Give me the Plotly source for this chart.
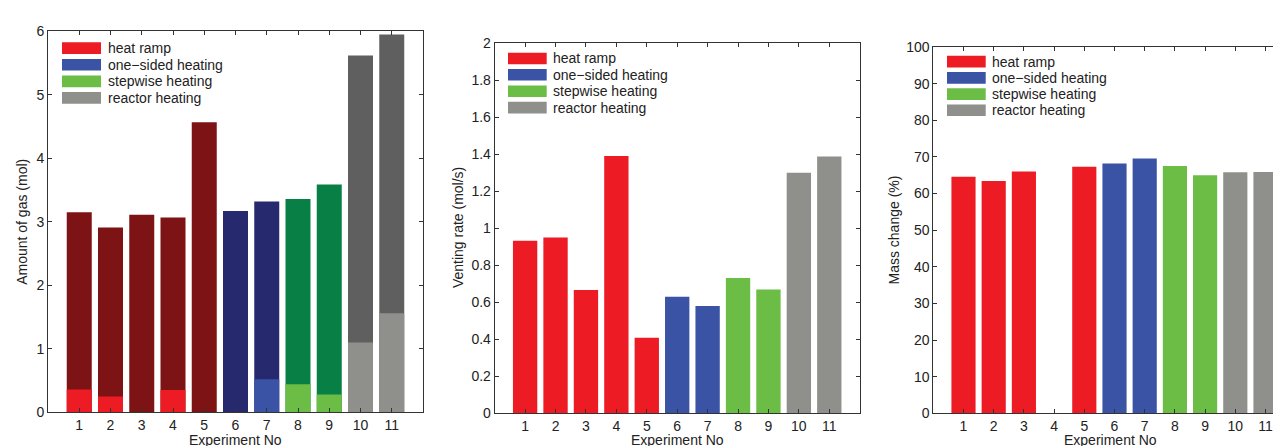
import plotly.graph_objects as go

# ---------------- data ----------------
experiments = [1, 2, 3, 4, 5, 6, 7, 8, 9, 10, 11]
groups = ["heat ramp", "heat ramp", "heat ramp", "heat ramp", "heat ramp",
          "one-sided heating", "one-sided heating",
          "stepwise heating", "stepwise heating",
          "reactor heating", "reactor heating"]
legend_names = ["heat ramp", "one\u2212sided heating", "stepwise heating", "reactor heating"]

gas_total = [3.15, 2.91, 3.11, 3.07, 4.57, 3.17, 3.32, 3.36, 3.59, 5.62, 5.95]
gas_part = [0.36, 0.25, 0.0, 0.35, 0.0, 0.0, 0.52, 0.44, 0.28, 1.10, 1.56]
venting_rate = [0.933, 0.95, 0.666, 1.39, 0.408, 0.629, 0.58, 0.731, 0.669, 1.30, 1.388]
mass_change = [64.6, 63.4, 66.0, None, 67.3, 68.2, 69.6, 67.5, 65.0, 65.8, 65.9]

y1_ticks = [0, 1, 2, 3, 4, 5, 6]
y2_ticks = [0, 0.2, 0.4, 0.6, 0.8, 1.0, 1.2, 1.4, 1.6, 1.8, 2.0]
y2_labels = ["0", "0.2", "0.4", "0.6", "0.8", "1", "1.2", "1.4", "1.6", "1.8", "2"]
y3_ticks = [0, 10, 20, 30, 40, 50, 60, 70, 80, 90, 100]

# ---------------- styles ----------------
light = {"heat ramp": "#ED1C24", "one-sided heating": "#3A53A4",
         "stepwise heating": "#6BBD45", "reactor heating": "#8F8F8B"}
dark = {"heat ramp": "#7D1315", "one-sided heating": "#27296F",
        "stepwise heating": "#077F45", "reactor heating": "#5F5F5F"}
legend_colors = ["#ED1C24", "#3A53A4", "#6BBD45", "#8F8F8B"]

W, H = 1281, 446
FONT = "Liberation Sans, Arial, Helvetica, sans-serif"
FS = 14
AX = "#333333"


def px(x):
    return x / W


def py(y):
    return 1 - y / H


fig = go.Figure()

light_cols = [light[g] for g in groups]
dark_cols = [dark[g] for g in groups]

fig.add_trace(go.Bar(x=experiments, y=gas_total, width=0.8,
                     marker=dict(color=dark_cols, line=dict(width=0)),
                     xaxis="x", yaxis="y", showlegend=False))
fig.add_trace(go.Bar(x=experiments, y=gas_part, width=0.8,
                     marker=dict(color=light_cols, line=dict(width=0)),
                     xaxis="x", yaxis="y", showlegend=False))
fig.add_trace(go.Bar(x=experiments, y=venting_rate, width=0.8,
                     marker=dict(color=light_cols, line=dict(width=0)),
                     xaxis="x2", yaxis="y2", showlegend=False))
fig.add_trace(go.Bar(x=experiments, y=mass_change, width=0.8,
                     marker=dict(color=light_cols, line=dict(width=0)),
                     xaxis="x3", yaxis="y3", showlegend=False))

# panel geometry (pixels): left, right, top, bottom
panels = [
    (40, 415, 16, 411, [0, 12]),
    (486.7, 851.7, 28.3, 412, [0, 12]),
    (925.3, 1281, 32.3, 412.0, [0, (1281 - 925.3) / 30.2]),
]

common_x = dict(tickvals=experiments, ticks="inside", ticklen=4, tickcolor=AX,
                showline=True, linecolor=AX, linewidth=1, mirror="ticks",
                showgrid=False, zeroline=False, tickfont=dict(size=FS, color="#222"))
common_y = dict(ticks="inside", ticklen=4, tickcolor=AX,
                showline=True, linecolor=AX, linewidth=1,
                showgrid=False, zeroline=False, tickfont=dict(size=FS, color="#222"))

layout = dict(
    width=W, height=H, margin=dict(l=0, r=0, t=0, b=0),
    paper_bgcolor="white", plot_bgcolor="white",
    barmode="overlay", font=dict(family=FONT, size=FS, color="#222"),
    showlegend=False,
)
ynames = ["yaxis", "yaxis2", "yaxis3"]
xnames = ["xaxis", "xaxis2", "xaxis3"]
ytick_sets = [(y1_ticks, [str(t) for t in y1_ticks], [0, 6]),
              (y2_ticks, y2_labels, [0, 2]),
              (y3_ticks, [str(t) for t in y3_ticks], [0, 100])]
for i, (l, r, t, b, xr) in enumerate(panels):
    xa = dict(common_x)
    xa.update(domain=[px(l), px(r)], range=xr,
              anchor="y" if i == 0 else f"y{i+1}")
    ya = dict(common_y)
    tv, tt, yr = ytick_sets[i]
    ya.update(domain=[py(b), py(t)], range=yr, tickvals=tv, ticktext=tt,
              mirror="ticks" if i < 2 else False,
              anchor="x" if i == 0 else f"x{i+1}")
    layout[xnames[i]] = xa
    layout[ynames[i]] = ya
fig.update_layout(**layout)

# legends drawn as boxes + text
legend_specs = [
    (54, 93, 98, [33.3, 50.5, 67.8, 84.9]),
    (500, 538.7, 542.7, [44.0, 61.0, 78.0, 95.0]),
    (939, 977.7, 981.7, [47.3, 64.2, 81.0, 97.8]),
]
shapes = []
annotations = []
for (bx0, bx1, tx, rows) in legend_specs:
    for name, col, yc in zip(legend_names, legend_colors, rows):
        shapes.append(dict(type="rect", xref="paper", yref="paper",
                           x0=px(bx0), x1=px(bx1), y0=py(yc + 6), y1=py(yc - 6),
                           fillcolor=col, line=dict(width=0), layer="above"))
        annotations.append(dict(text=name, xref="paper", yref="paper",
                                x=px(tx), y=py(yc), xanchor="left", yanchor="middle",
                                showarrow=False, font=dict(size=FS, color="#222")))

# axis titles
xtitles = [(227.5, 440), (669.2, 440), (1102, 440)]
for xc, yc in xtitles:
    annotations.append(dict(text="Experiment No", xref="paper", yref="paper",
                            x=px(xc), y=py(yc), xanchor="center", yanchor="middle",
                            borderpad=0, showarrow=False,
                            font=dict(size=FS, color="#222")))
ytitles = [("Amount of gas (mol)", 14, 213.5), ("Venting rate (mol/s)", 450, 220),
           ("Mass change (%)", 886, 222.5)]
for txt, xc, yc in ytitles:
    annotations.append(dict(text=txt, xref="paper", yref="paper",
                            x=px(xc), y=py(yc), xanchor="center", yanchor="middle",
                            textangle=-90, showarrow=False,
                            font=dict(size=FS, color="#222")))

fig.update_layout(shapes=shapes, annotations=annotations)
fig.write_html("out.html")
